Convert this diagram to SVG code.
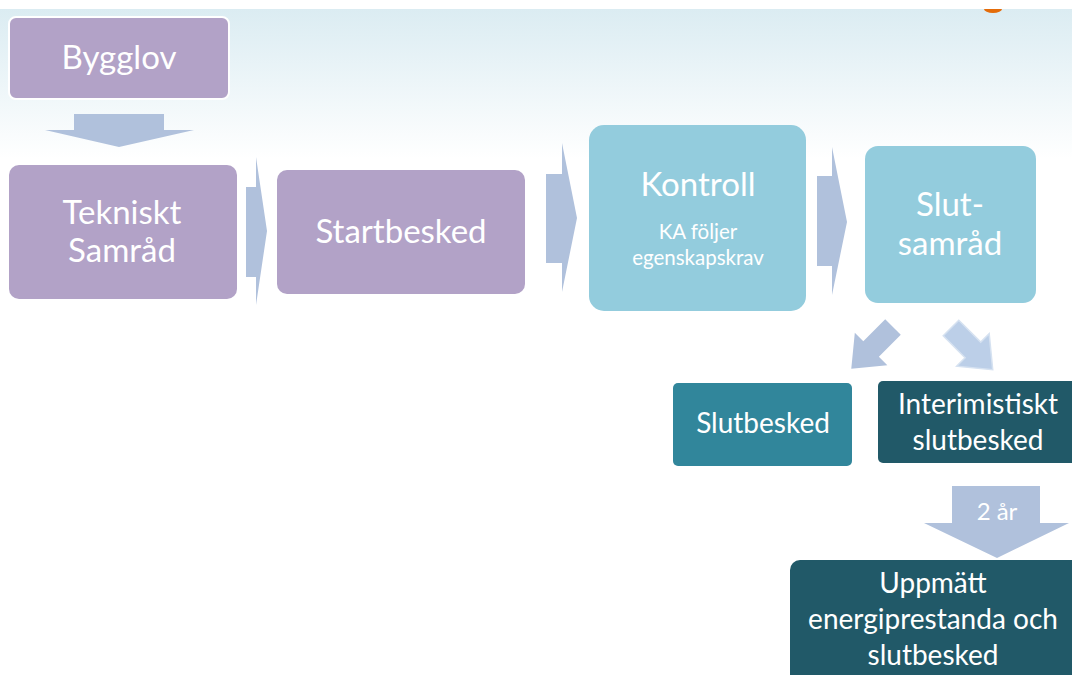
<svg xmlns="http://www.w3.org/2000/svg" width="1072" height="675" viewBox="0 0 1072 675">
<defs>
<linearGradient id="bg" x1="0" y1="0" x2="0" y2="1">
<stop offset="0" stop-color="#dbecf2"/>
<stop offset="1" stop-color="#ffffff"/>
</linearGradient>
<style>
.t{font-family:Lato,"Open Sans",sans-serif;fill:#ffffff;text-anchor:middle}
.big{font-size:33px}
.med{font-size:28px}
.sm{font-size:20.5px}
.purple{fill:#b2a2c7}
.lblue{fill:#93ccdd}
.teal{fill:#31869b}
.dark{fill:#215968}
.arr{fill:#b0c1dc}
</style>
</defs>
<rect x="0" y="0" width="1072" height="675" fill="#ffffff"/>
<rect x="0" y="9" width="1072" height="150" fill="url(#bg)"/>
<path d="M984 9 A9 4 0 0 0 1002 9 Z" fill="#e46c0a"/>
<g id="connectors">
<polygon class="arr" points="74,114 164,114 164,130 194,130 119,147 45,130 74,130"/>
<polygon class="arr" points="246,187 256,187 256,157 267,231 256,305 256,277 246,277"/>
<polygon class="arr" points="546,174 562,174 562,143 577,218 562,292 562,263 546,263"/>
<polygon class="arr" points="817,176 832,176 832,147 847,222 832,295 832,266 817,266"/>
<polygon class="arr" points="-11,0 11,0 11,31 23,31 0,59 -23,31 -11,31" transform="translate(893,327) rotate(45)"/>
<polygon points="-11,0 11,0 11,31 23,31 0,59 -23,31 -11,31" fill="#bccfe8" stroke="#d6e2f1" stroke-width="1.5" transform="translate(951,328) rotate(-45)"/>
<polygon class="arr" points="952,486 1040,486 1040,523 1069,523 997,558 924,523 952,523"/>
<text class="t" x="997" y="520" font-size="24">2 år</text>
</g>
<g id="bygglov">
<rect x="9" y="17" width="220" height="82" rx="7" class="purple" stroke="#ffffff" stroke-width="2"/>
<text class="t big" x="119" y="69">Bygglov</text>
</g>
<g id="tekniskt">
<rect x="9" y="165" width="228" height="134" rx="10" class="purple"/>
<text class="t big" x="122" y="224">Tekniskt</text>
<text class="t big" x="122" y="262">Samråd</text>
</g>
<g id="startbesked">
<rect x="277" y="170" width="248" height="124" rx="10" class="purple"/>
<text class="t big" x="401" y="243">Startbesked</text>
</g>
<g id="kontroll">
<rect x="589" y="125" width="217" height="186" rx="15" class="lblue"/>
<text class="t big" x="698" y="196">Kontroll</text>
<text class="t sm" x="698" y="239">KA följer</text>
<text class="t sm" x="698" y="265">egenskapskrav</text>
</g>
<g id="slutsamrad">
<rect x="865" y="146" width="171" height="157" rx="13" class="lblue"/>
<text class="t big" x="950" y="216">Slut-</text>
<text class="t big" x="950" y="255">samråd</text>
</g>
<g id="slutbesked">
<rect x="673" y="383" width="179" height="83" rx="5" class="teal"/>
<text class="t med" x="763" y="433">Slutbesked</text>
</g>
<g id="interimistiskt">
<rect x="878" y="381" width="200" height="82" rx="5" class="dark"/>
<text class="t med" x="978" y="414">Interimistiskt</text>
<text class="t med" x="978" y="450">slutbesked</text>
</g>
<g id="uppmatt">
<rect x="790" y="560" width="300" height="130" rx="10" class="dark"/>
<text class="t med" x="933" y="593">Uppmätt</text>
<text class="t med" x="933" y="629">energiprestanda och</text>
<text class="t med" x="933" y="665">slutbesked</text>
</g>
</svg>
